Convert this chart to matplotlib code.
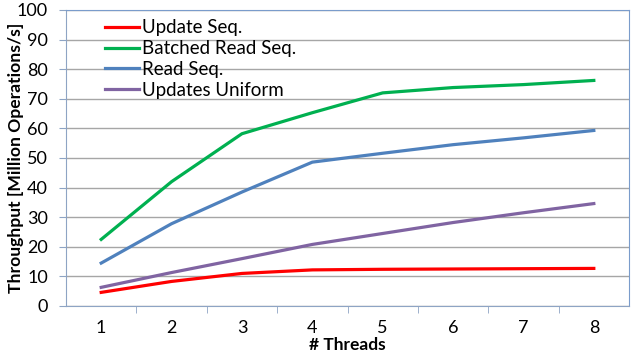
import numpy as np
import matplotlib.pyplot as plt

threads = [1, 2, 3, 4, 5, 6, 7, 8]
update_seq = [4.6, 8.3, 11.0, 12.2, 12.4, 12.5, 12.6, 12.7]
batched_read_seq = [22.5, 42.0, 58.2, 65.3, 72.0, 73.8, 74.8, 76.2]
read_seq = [14.5, 27.8, 38.5, 48.6, 51.6, 54.5, 56.8, 59.3]
updates_uniform = [6.3, 11.3, 16.0, 20.8, 24.5, 28.2, 31.5, 34.6]

plt.rcParams['font.family'] = ['Lato', 'DejaVu Sans']

fig = plt.figure(figsize=(6.34, 3.57), dpi=100)
ax = fig.add_axes([66/634, 1-306/357, 563/634, 296/357])

ax.plot(threads, update_seq, color='#FF0000', lw=2.3, label='Update Seq.')
ax.plot(threads, batched_read_seq, color='#00B050', lw=2.3, label='Batched Read Seq.')
ax.plot(threads, read_seq, color='#4F81BD', lw=2.3, label='Read Seq.')
ax.plot(threads, updates_uniform, color='#8064A2', lw=2.3, label='Updates Uniform')

ax.set_xlim(0.5, 8.5)
ax.set_ylim(0, 100)
ax.set_yticks(np.arange(0, 101, 10))
ax.set_xticks(threads)
ax.set_xticks(np.arange(1.5, 8.5, 1), minor=True)
ax.tick_params(axis='x', which='major', length=0, pad=10, labelsize=13)
ax.tick_params(axis='x', which='minor', length=5, color='#8EA4C4', direction='out')
ax.tick_params(axis='y', length=5, color='#8EA4C4', labelsize=13, pad=8)
ax.grid(axis='y', color='#A6A6A6', lw=1)
ax.set_axisbelow(True)
for s in ['left', 'bottom']:
    ax.spines[s].set_color('#8EA4C4')
for s in ['top', 'right']:
    ax.spines[s].set_color('#7A9CCB')

ax.set_xlabel('# Threads', fontweight='bold', fontsize=12.5, labelpad=0.5)
ax.set_ylabel('Throughput [Million Operations/s]', fontweight='bold', fontsize=12.6, labelpad=-5)

ax.legend(loc='upper left', bbox_to_anchor=(0.069, 0.968), frameon=False, fontsize=13.5,
          handlelength=1.8, handletextpad=0.2, labelspacing=0.2, borderaxespad=0, borderpad=0)

fig.savefig('out.png', dpi=100)
